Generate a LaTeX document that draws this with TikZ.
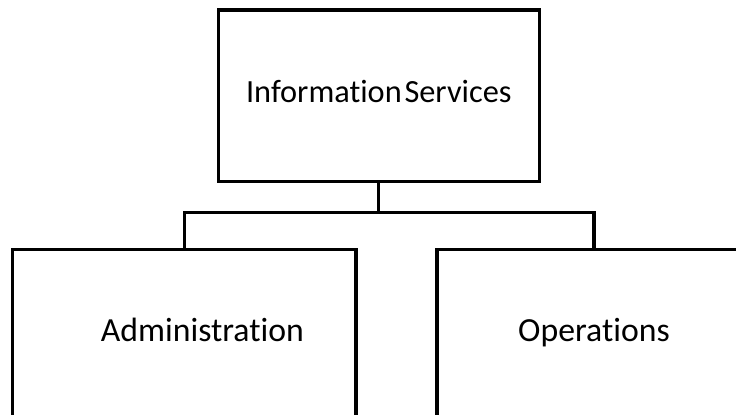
\documentclass[tikz,border=0pt]{standalone}
\usepackage{fontspec}
\setmainfont{Carlito}[Ligatures=NoCommon]
\usepackage{tikz}

\begin{document}
\begin{tikzpicture}[
    unitbox/.style={draw, line width=2.2pt, rectangle, inner sep=0pt, text height=14pt},
    link/.style={line width=2.2pt}
  ]

    % frame of the page
    \useasboundingbox (0,0) rectangle (18.4,-10.375);
    \clip (0,0) rectangle (18.4,-10.375);

    % nodes
    \node[unitbox, minimum width=8.03cm, minimum height=4.28cm, text depth=4.8pt, font=\fontsize{23}{27}\selectfont] (infoserv) at (9.47,-2.39) {Information\hspace{2pt}Services};
    \node[unitbox, minimum width=8.58cm, minimum height=4.2cm, text depth=2.6pt, font=\fontsize{24}{28}\selectfont] (admin) at (4.61,-8.33) {\hspace*{0.9cm}Administration};
    \node[unitbox, minimum width=7.85cm, minimum height=4.2cm, text depth=2.6pt, font=\fontsize{24}{28}\selectfont] (ops) at (14.85,-8.33) {Operations};
    \coordinate (bus) at (9.47,-5.32);

    % paths
    \draw[link] (infoserv.south) -- (bus); % stem
    \draw[link] (bus) -| (admin.north); % bus -> Administration
    \draw[link] (bus) -| (ops.north); % bus -> Operations

\end{tikzpicture}
\end{document}
